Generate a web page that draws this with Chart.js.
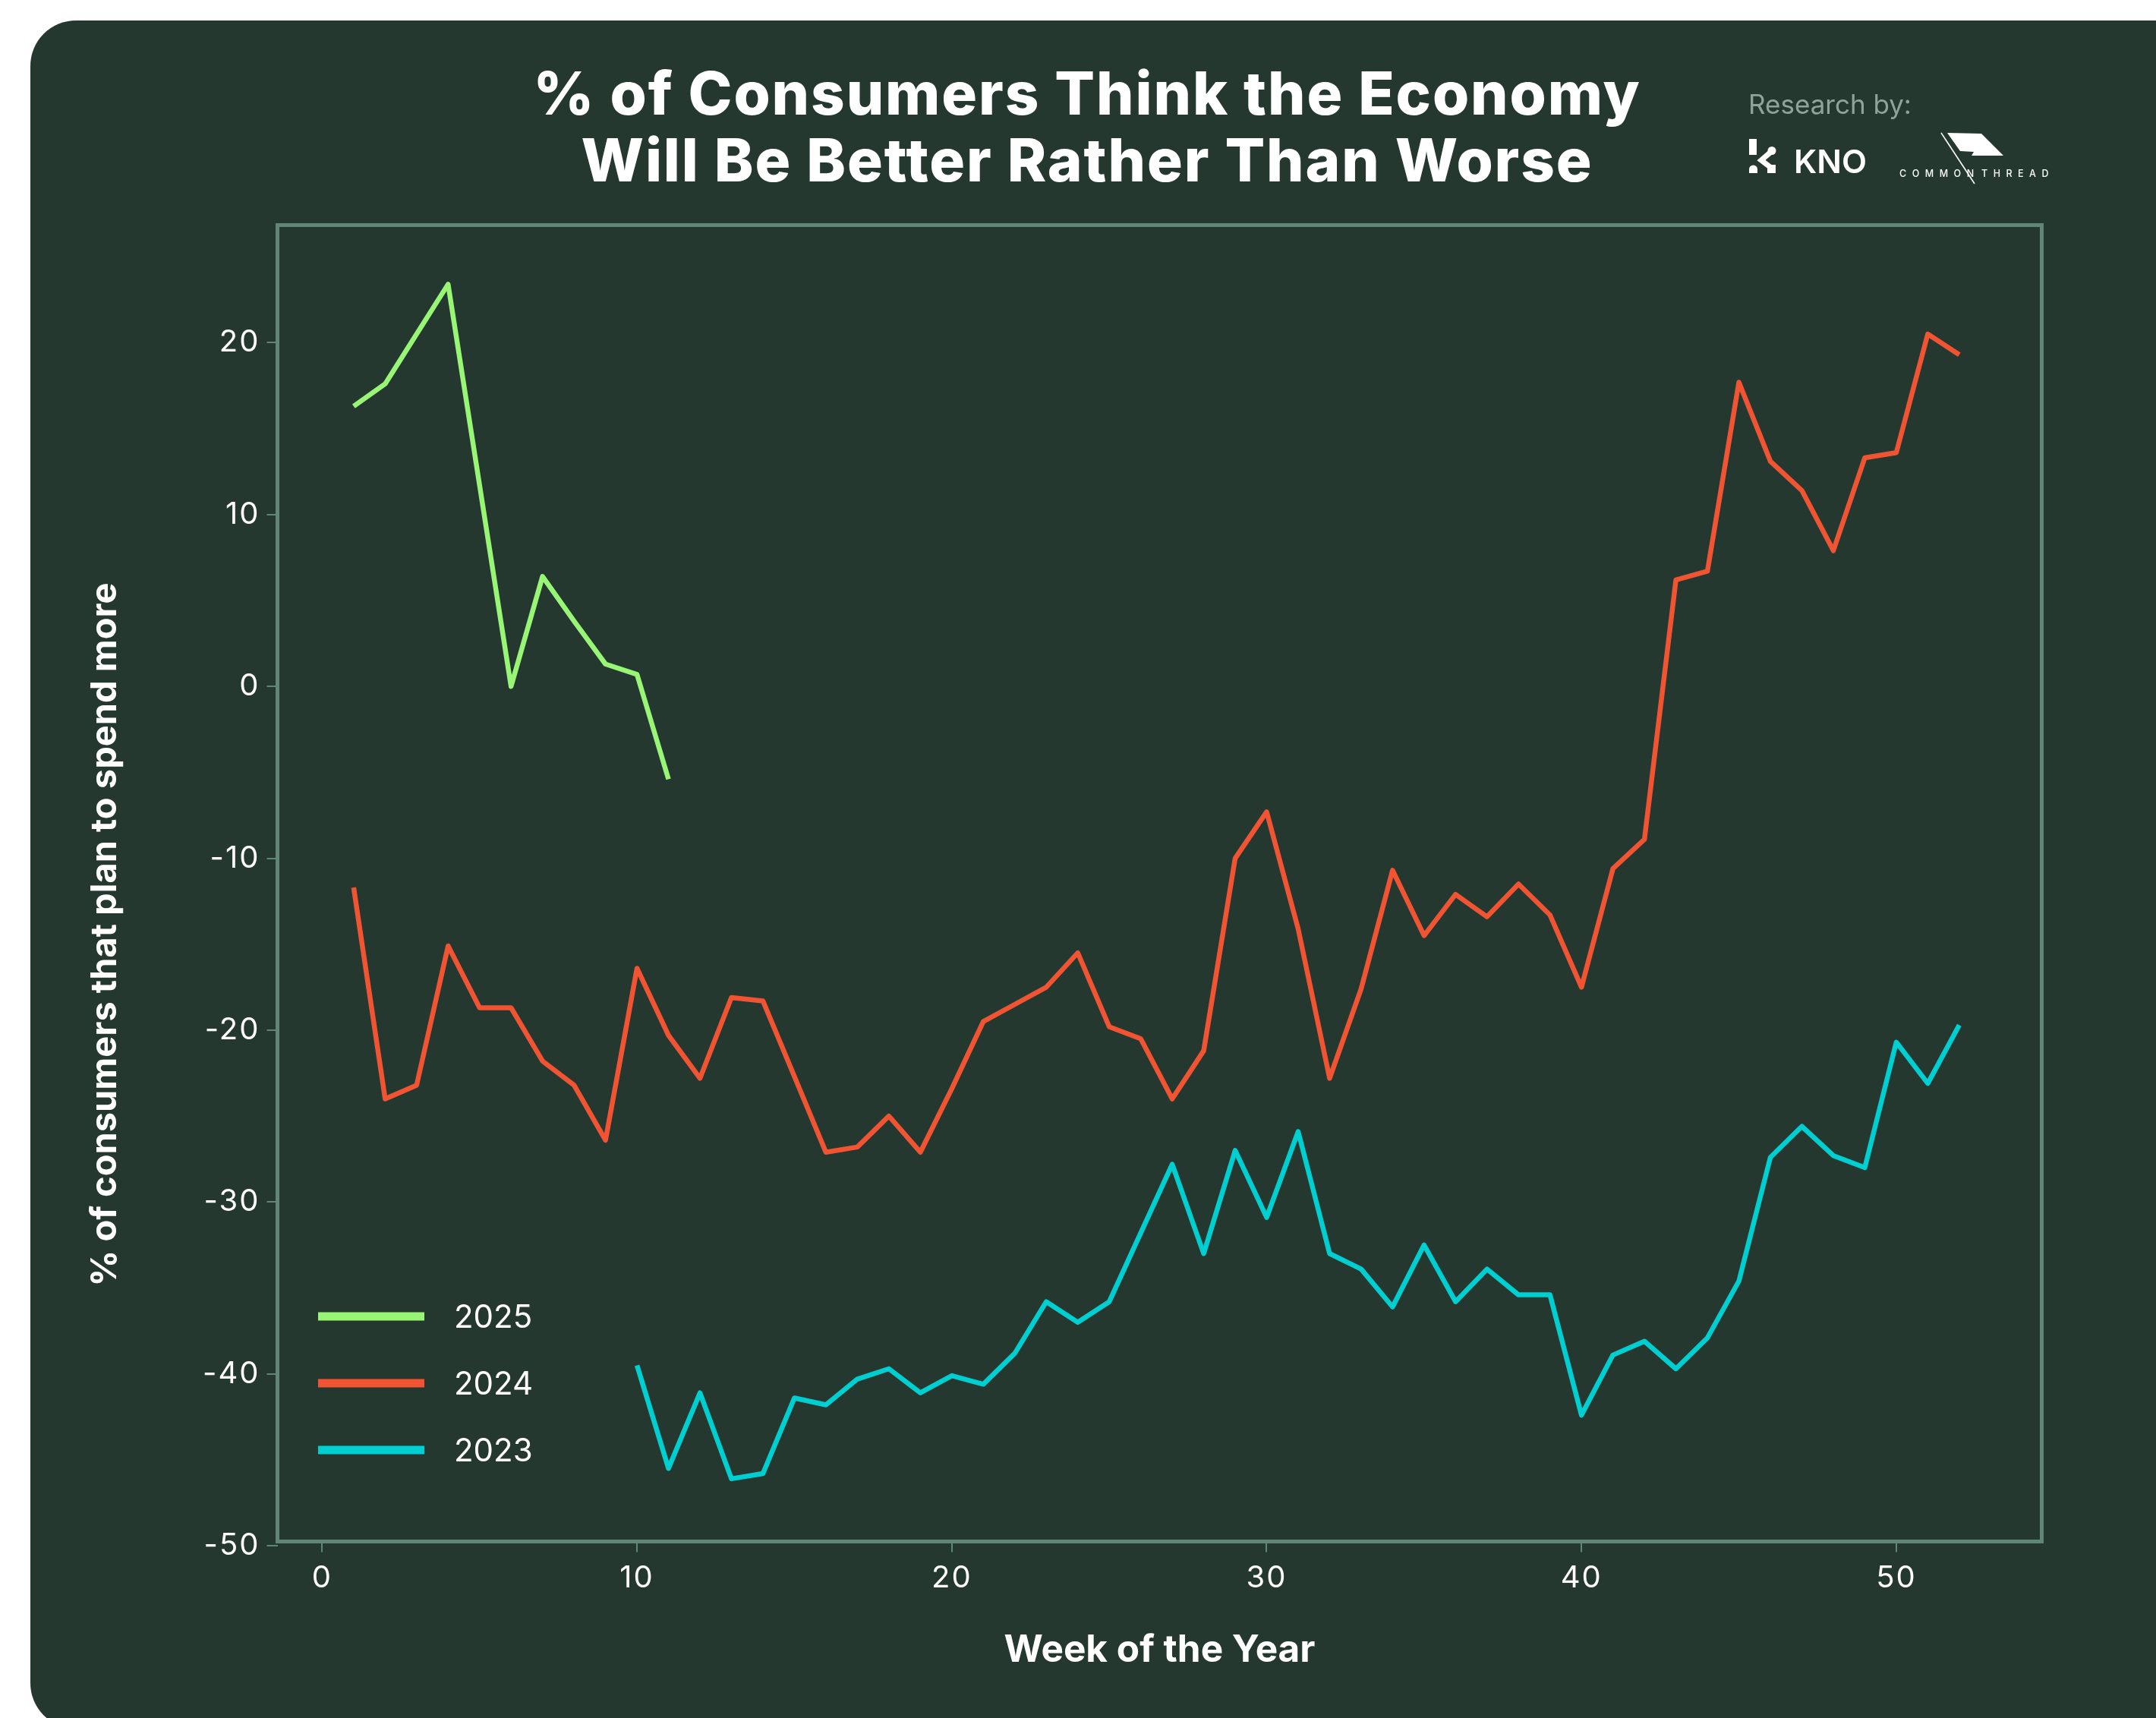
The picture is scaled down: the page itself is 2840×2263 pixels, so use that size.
<!DOCTYPE html>
<html>
<head>
<meta charset="utf-8">
<script src="https://cdn.jsdelivr.net/npm/chart.js@4.4.1/dist/chart.umd.min.js"></script>
<style>
  html, body { margin: 0; padding: 0; background: #ffffff; }
  #wrap { width: 2840px; height: 2263px; }
  canvas { display: block; }
</style>
</head>
<body>
<div id="wrap"><canvas id="chart" width="2840" height="2263"></canvas></div>
<script>
// ---------------- DATA ----------------
const seriesLabels = ['2025', '2024', '2023'];

const weeks2025 = [1, 2, 3, 4, 5, 6, 7, 8, 9, 10, 11];
const values2025 = [16.3, 17.6, 20.5, 23.4, 11.7, 0.0, 6.4, 3.8, 1.3, 0.7, -5.4];

const weeks2024 = [1, 2, 3, 4, 5, 6, 7, 8, 9, 10, 11, 12, 13, 14, 15, 16, 17, 18, 19, 20,
  21, 22, 23, 24, 25, 26, 27, 28, 29, 30, 31, 32, 33, 34, 35, 36, 37, 38, 39, 40,
  41, 42, 43, 44, 45, 46, 47, 48, 49, 50, 51, 52];
const values2024 = [-11.7, -24.0, -23.2, -15.1, -18.7, -18.7, -21.8, -23.2, -26.4, -16.4,
  -20.3, -22.8, -18.1, -18.3, -22.7, -27.1, -26.8, -25.0, -27.1, -23.4,
  -19.5, -18.5, -17.5, -15.5, -19.8, -20.5, -24.0, -21.2, -10.0, -7.3,
  -14.1, -22.8, -17.6, -10.7, -14.5, -12.1, -13.4, -11.5, -13.3, -17.5,
  -10.6, -8.9, 6.2, 6.7, 17.7, 13.1, 11.4, 7.9, 13.3, 13.6, 20.5, 19.3];

const weeks2023 = [10, 11, 12, 13, 14, 15, 16, 17, 18, 19, 20, 21, 22, 23, 24, 25, 26, 27, 28, 29,
  30, 31, 32, 33, 34, 35, 36, 37, 38, 39, 40, 41, 42, 43, 44, 45, 46, 47, 48, 49, 50, 51, 52];
const values2023 = [-39.5, -45.5, -41.1, -46.1, -45.8, -41.4, -41.8, -40.3, -39.7, -41.1,
  -40.1, -40.6, -38.8, -35.8, -37.0, -35.8, -31.8, -27.8, -33.0, -27.0,
  -30.9, -25.9, -33.0, -33.9, -36.1, -32.5, -35.8, -33.9, -35.4, -35.4,
  -42.4, -38.9, -38.1, -39.7, -37.9, -34.6, -27.4, -25.6, -27.3, -28.0,
  -20.7, -23.1, -19.7];

const xTickValues = [0, 10, 20, 30, 40, 50];
const yTickValues = [-50, -40, -30, -20, -10, 0, 10, 20];

const titleLines = ['% of Consumers Think the Economy', 'Will Be Better Rather Than Worse'];
const xAxisTitle = 'Week of the Year';
const yAxisTitle = '% of consumers that plan to spend more';

// ---------------- STYLE ----------------
const COL = {
  page: '#ffffff',
  card: '#243830',
  frame: '#5f8676',
  text: '#ffffff',
  muted: '#8fa39a',
  series: ['#98f575', '#f15432', '#00cfd2']
};
const FONT = 'Inter, "Noto Sans", "DejaVu Sans", sans-serif';

function toPoints(xs, ys) { return xs.map((x, i) => ({ x: x, y: ys[i] })); }

const seriesData = [toPoints(weeks2025, values2025), toPoints(weeks2024, values2024), toPoints(weeks2023, values2023)];

const decor = {
  id: 'decor',
  beforeDraw(chart) {
    const ctx = chart.ctx;
    ctx.save();
    ctx.fillStyle = COL.page;
    ctx.fillRect(0, 0, chart.width, chart.height);
    ctx.fillStyle = COL.card;
    ctx.beginPath();
    ctx.roundRect(40, 27, 2900, 2250, 60);
    ctx.fill();

    // Title
    ctx.fillStyle = COL.text;
    ctx.textAlign = 'center';
    ctx.textBaseline = 'alphabetic';
    ctx.font = '800 78px ' + FONT;
    ctx.letterSpacing = '1.9px';
    ctx.fillText(titleLines[0], 1432, 151);
    ctx.fillText(titleLines[1], 1432, 239);
    ctx.letterSpacing = '0px';

    // Research by
    ctx.textAlign = 'left';
    ctx.fillStyle = COL.muted;
    ctx.font = '400 35px ' + FONT;
    ctx.fillText('Research by:', 2303, 150);

    // KNO logo
    ctx.fillStyle = COL.text;
    ctx.fillRect(2304, 183, 10, 21);
    ctx.beginPath();
    ctx.moveTo(2304, 228);
    ctx.lineTo(2304, 223);
    ctx.arc(2309.5, 223, 5.5, Math.PI, 0);
    ctx.lineTo(2315, 228);
    ctx.closePath();
    ctx.fill();
    ctx.fillRect(2328, 217, 11, 11);
    ctx.beginPath();
    ctx.arc(2334, 198.5, 5.5, 0, Math.PI * 2);
    ctx.fill();
    ctx.strokeStyle = COL.text;
    ctx.lineWidth = 7;
    ctx.lineJoin = 'miter';
    ctx.beginPath();
    ctx.moveTo(2334, 199);
    ctx.lineTo(2320, 211);
    ctx.lineTo(2333, 221);
    ctx.stroke();
    ctx.font = '600 43px ' + FONT;
    ctx.fillText('KNO', 2363, 228);

    // Common Thread logo
    ctx.beginPath();
    ctx.moveTo(2565, 175);
    ctx.lineTo(2610, 176);
    ctx.lineTo(2639, 205);
    ctx.lineTo(2597, 205);
    ctx.lineTo(2600, 200);
    ctx.lineTo(2582, 199);
    ctx.closePath();
    ctx.fill();
    ctx.lineWidth = 1.6;
    ctx.beginPath();
    ctx.moveTo(2557, 175);
    ctx.lineTo(2601, 242);
    ctx.stroke();
    ctx.font = '500 12.5px ' + FONT;
    ctx.letterSpacing = '7.5px';
    ctx.fillText('COMMON', 2502, 233);
    ctx.fillText('THREAD', 2610, 233);
    ctx.letterSpacing = '0px';

    // Axis titles
    ctx.font = '700 49.5px ' + FONT;
    ctx.textAlign = 'center';
    ctx.textBaseline = 'middle';
    const ca = chart.chartArea;
    ctx.fillText(xAxisTitle, (ca.left + ca.right) / 2, 2174);
    ctx.save();
    ctx.translate(139, 1231);
    ctx.rotate(-Math.PI / 2);
    ctx.font = '700 47px ' + FONT;
    ctx.fillText(yAxisTitle, 0, 0);
    ctx.restore();
    ctx.restore();
    // spacing used by the tick labels drawn next
    ctx.letterSpacing = '2px';
  },
  beforeDatasetsDraw(chart) {
    chart.ctx.letterSpacing = '0px';
  },
  afterDraw(chart) {
    const ctx = chart.ctx;
    const ca = chart.chartArea;
    ctx.save();
    ctx.letterSpacing = '0px';
    // frame
    ctx.strokeStyle = COL.frame;
    ctx.lineWidth = 5;
    ctx.strokeRect(ca.left, ca.top, ca.right - ca.left, ca.bottom - ca.top);
    // legend
    const ly = [1734, 1822, 1910];
    chart.data.datasets.forEach((ds, i) => {
      ctx.fillStyle = ds.borderColor;
      ctx.fillRect(419, ly[i] - 5.5, 140, 11);
      ctx.fillStyle = COL.text;
      ctx.font = '400 42px ' + FONT;
      ctx.textAlign = 'left';
      ctx.textBaseline = 'middle';
      ctx.fillText(ds.label, 598, ly[i] + 2);
    });
    ctx.restore();
  }
};

const tickGrid = { display: true, drawOnChartArea: false, drawTicks: true, tickLength: 14, lineWidth: 2, color: COL.frame };

new Chart(document.getElementById('chart'), {
  type: 'line',
  data: {
    datasets: seriesLabels.map((lab, i) => ({
      label: lab,
      data: seriesData[i],
      borderColor: COL.series[i],
      backgroundColor: COL.series[i],
      borderWidth: 6.5,
      borderJoinStyle: 'round',
      borderCapStyle: 'butt',
      pointRadius: 0,
      fill: false,
      tension: 0
    }))
  },
  options: {
    responsive: false,
    animation: false,
    devicePixelRatio: 1,
    layout: { padding: { left: 0, top: 296.5, right: 150.5, bottom: 0 } },
    plugins: { legend: { display: false }, title: { display: false }, tooltip: { enabled: false } },
    scales: {
      x: {
        type: 'linear',
        min: -1.42,
        max: 54.62,
        afterFit(s) { s.height = 232.5; },
        afterBuildTicks(s) { s.ticks = xTickValues.map(v => ({ value: v })); },
        grid: tickGrid,
        border: { display: false },
        ticks: { color: COL.text, font: { family: FONT, size: 40 }, padding: 10, maxRotation: 0, autoSkip: false }
      },
      y: {
        type: 'linear',
        min: -49.75,
        max: 26.84,
        afterFit(s) { s.width = 365.5; },
        afterBuildTicks(s) { s.ticks = yTickValues.map(v => ({ value: v })); },
        grid: tickGrid,
        border: { display: false },
        ticks: { color: COL.text, font: { family: FONT, size: 40 }, padding: 9, autoSkip: false }
      }
    }
  },
  plugins: [decor]
});
</script>
</body>
</html>
